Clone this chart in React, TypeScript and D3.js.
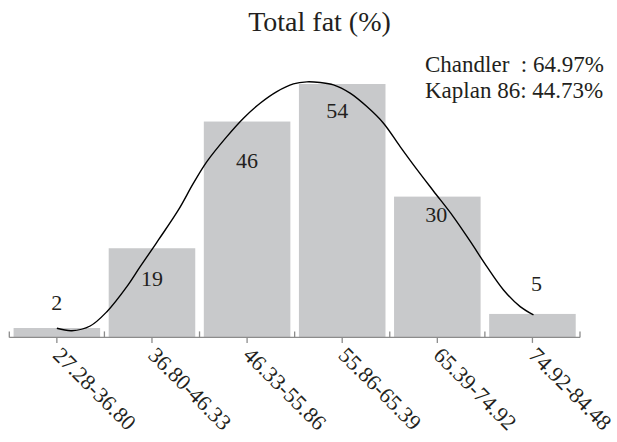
import React from "react";
import * as d3 from "d3";

// ---- data ----
const categories = ["27.28-36.80", "36.80-46.33", "46.33-55.86", "55.86-65.39", "65.39-74.92", "74.92-84.48"];
const counts = [2, 19, 46, 54, 30, 5];
const title = "Total fat (%)";
const legendLines = ["Chandler  : 64.97%", "Kaplan 86: 44.73%"];
// fitted curve: x in category-index units (0 = first bin centre), y in counts
const curveX = [0.0, 0.158, 0.35, 0.526, 0.736, 0.876, 1.068, 1.278, 1.436, 1.577, 1.787, 1.962, 2.137, 2.313, 2.487, 2.628, 2.768, 2.908, 3.083, 3.259, 3.434, 3.609, 3.785, 3.959, 4.169, 4.345, 4.521, 4.696, 4.871, 5.011];
const curveY = [1.94, 1.43, 2.43, 5.48, 10.81, 15.07, 20.77, 27.16, 32.86, 37.46, 42.79, 46.72, 49.91, 52.39, 54.03, 54.46, 54.31, 53.82, 52.05, 49.19, 45.65, 40.66, 35.8, 31.2, 25.7, 20.5, 15.07, 10.11, 6.55, 4.78];

// ---- layout ----
const W = 617, H = 442;
const labelDx = [0, 0, 0, -5, -1, 4];
const labelDy = [-18, 38, 46, 34, 25, -23];
const FONT = "'Liberation Serif', 'Times New Roman', serif";
const TEXT = "#231f20";

export default function App() {
  const x = d3.scaleBand<string>().domain(categories).range([9.3, 580]).paddingInner(0.09).paddingOuter(0.045);
  const y = d3.scaleLinear().domain([0, 54]).range([337.4, 84]);
  const step = x.step();
  const c0 = (x(categories[0]) as number) + x.bandwidth() / 2;
  const cx = (i: number) => c0 + i * step;
  const axisY = y(0);
  const left = x.range()[0];
  const right = x.range()[1];
  const boundaries = d3.range(categories.length + 1).map((i) => left + i * step);

  const pts: [number, number][] = curveX.map((v, i) => [v, curveY[i]]);
  const line = d3.line<[number, number]>().x((d) => cx(d[0])).y((d) => y(d[1])).curve(d3.curveCatmullRom.alpha(0.5));

  return (
    <svg width={W} height={H} style={{ position: "absolute", left: 0, top: 0 }} fontFamily={FONT}>
      <rect width={W} height={H} fill="#fff" />
      <text x={319.5} y={31} textAnchor="middle" fontSize={28} fill={TEXT}>{title}</text>
      {legendLines.map((t, i) => (
        <text key={i} x={425} y={72 + i * 26} fontSize={23} fill={TEXT} style={{ whiteSpace: "pre" }}>{t}</text>
      ))}
      {counts.map((v, i) => (
        <rect key={i} x={x(categories[i])} y={y(v)} width={x.bandwidth()} height={axisY - y(v)} fill="#c8c9cb" />
      ))}
      <line x1={left} x2={right} y1={axisY} y2={axisY} stroke="#8c8c8c" strokeWidth={1.3} />
      {boundaries.map((b, i) => (
        <line key={"b" + i} x1={b} x2={b} y1={axisY - 6} y2={axisY} stroke="#8c8c8c" strokeWidth={1.3} />
      ))}
      {categories.map((c, i) => (
        <line key={"t" + i} x1={cx(i)} x2={cx(i)} y1={axisY} y2={axisY + 5.5} stroke="#8c8c8c" strokeWidth={1.3} />
      ))}
      {categories.map((c, i) => (
        <text key={"l" + i} transform={`translate(${cx(i) - 5},${axisY + 19}) rotate(45)`} fontSize={22} fill={TEXT}>{c}</text>
      ))}
      <path d={line(pts) || ""} fill="none" stroke="#000" strokeWidth={1.4} />
      {counts.map((v, i) => (
        <text key={"v" + i} x={cx(i) + labelDx[i]} y={y(v) + labelDy[i]} textAnchor="middle" fontSize={22} fill={TEXT}>{v}</text>
      ))}
    </svg>
  );
}
